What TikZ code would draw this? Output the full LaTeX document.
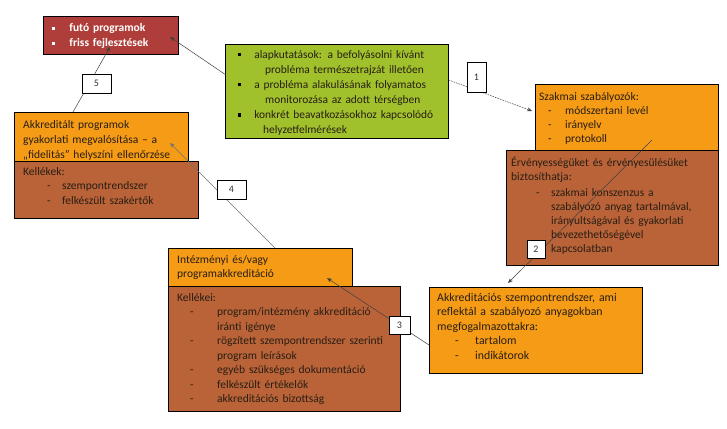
\documentclass[tikz,border=0pt]{standalone}
\usepackage{fontspec}
\setmainfont{Carlito}
\usetikzlibrary{arrows.meta,calc}
\definecolor{cOrange}{RGB}{245,155,22}
\definecolor{cBrown}{RGB}{186,99,56}
\definecolor{cRed}{RGB}{175,62,58}
\definecolor{cGreen}{RGB}{160,192,44}
\definecolor{cText}{RGB}{40,30,20}
\newcommand\sqb[1]{\raisebox{1.8pt}{\color{#1}\rule{3.2pt}{3.2pt}}}
\newcommand\dsh[3]{\hspace*{#1}\makebox[#2][l]{-}#3}
\begin{document}
\begin{tikzpicture}[x=1pt,y=-1pt,
  box/.style={draw=black, line width=0.7pt, inner sep=0pt, anchor=north west},
  txt/.style={anchor=base west, inner sep=0pt, align=left, text=cText},
  lbl/.style={draw=black, fill=white, line width=0.6pt, inner sep=0pt, text=black!80,
    font=\fontsize{10}{10}\selectfont},
  conn/.style={draw=black!75, line width=0.5pt},
  tip/.style={-{Stealth[length=5pt,width=4pt]}}]
\useasboundingbox (0,0) rectangle (727,428);
% boxes
\node[box, fill=cRed, minimum width=135pt, minimum height=38pt] (red) at (43,16) {};
\node[box, fill=cGreen, minimum width=223pt, minimum height=94pt] (green) at (225,44) {};
\node[box, fill=cOrange, minimum width=183pt, minimum height=66pt] (szak) at (535,84) {};
\node[box, fill=cBrown, minimum width=212pt, minimum height=115pt] (erv) at (506,150) {};
\node[box, fill=cOrange, minimum width=213pt, minimum height=86pt] (akk) at (429,287) {};
\node[box, fill=cOrange, minimum width=184pt, minimum height=38pt] (inst) at (168,248) {};
\node[box, fill=cBrown, minimum width=232pt, minimum height=125pt] (kell) at (168,286) {};
\node[box, fill=cOrange, minimum width=174pt, minimum height=49pt] (fid) at (14,112) {};
\node[box, fill=cBrown, minimum width=184pt, minimum height=57pt] (kel2) at (14,161) {};
% texts
\node[txt, text=white, text width=130pt, font=\fontsize{11.5}{15}\selectfont\bfseries] (tred) at (52,32)
  {\sqb{white}\hspace{14pt}futó programok\\ \sqb{white}\hspace{14pt}friss fejlesztések};
\node[txt, text width=215pt, font=\fontsize{11.4}{15.1}\selectfont] (tgreen) at (238,58)
  {\sqb{black}\hspace{13pt}alapkutatások: a befolyásolni kívánt\\
   \hspace*{27pt}probléma természetrajzát illetően\\
   \sqb{black}\hspace{13pt}a probléma alakulásának folyamatos\\
   \hspace*{27pt}monitorozása az adott térségben\\
   \sqb{black}\hspace{13pt}konkrét beavatkozásokhoz kapcsolódó\\
   \hspace*{25pt}helyzetfelmérések};
\node[txt, text width=178pt, font=\fontsize{11.5}{14}\selectfont] (tszak) at (539,100)
  {Szakmai szabályozók:\\
   \dsh{9pt}{17pt}{módszertani levél}\\
   \dsh{9pt}{17pt}{irányelv}\\
   \dsh{9pt}{17pt}{protokoll}};
\node[txt, text width=210pt, font=\fontsize{11.5}{14}\selectfont] (terv) at (511,166)
  {Érvényességüket és érvényesülésüket\\
   biztosíthatja:\\[2pt]
   \dsh{25pt}{15pt}{szakmai konszenzus a}\\
   \hspace*{40pt}szabályozó anyag tartalmával,\\
   \hspace*{40pt}irányultságával és gyakorlati\\
   \hspace*{40pt}bevezethetőségével\\
   \hspace*{40pt}kapcsolatban};
\node[txt, text width=210pt, font=\fontsize{11.8}{14.5}\selectfont] (takk) at (437,301)
  {Akkreditációs szempontrendszer, ami\\
   reflektál a szabályozó anyagokban\\
   megfogalmazottakra:\\
   \dsh{18pt}{20pt}{tartalom}\\
   \dsh{18pt}{20pt}{indikátorok}};
\node[txt, text width=180pt, font=\fontsize{11.5}{14}\selectfont] (tinst) at (177,263)
  {Intézményi és/vagy\\ programakkreditáció};
\node[txt, text width=228pt, font=\fontsize{11.5}{14.5}\selectfont] (tkell) at (177,301)
  {Kellékei:\\
   \dsh{13pt}{27pt}{program/intézmény akkreditáció}\\
   \hspace*{40pt}iránti igénye\\
   \dsh{13pt}{27pt}{rögzített szempontrendszer szerinti}\\
   \hspace*{40pt}program leírások\\
   \dsh{13pt}{27pt}{egyéb szükséges dokumentáció}\\
   \dsh{13pt}{27pt}{felkészült értékelők}\\
   \dsh{13pt}{27pt}{akkreditációs bizottság}};
\node[txt, text width=172pt, font=\fontsize{11.5}{15}\selectfont] (tfid) at (23,128)
  {Akkreditált programok\\
   gyakorlati megvalósítása – a\\
   „fidelitás” helyszíni ellenőrzése};
\node[txt, text width=180pt, font=\fontsize{11.5}{14.5}\selectfont] (tkel2) at (23,175)
  {Kellékek:\\
   \dsh{24pt}{15pt}{szempontrendszer}\\
   \dsh{24pt}{15pt}{felkészült szakértők}};
% connector endpoints
\coordinate (c0s) at ($(green.north west)+(1,31)$);
\coordinate (c0e) at ($(red.north west)+(127,21)$);
\coordinate (c1s) at ($(green.north east)+(0,36)$);
\coordinate (c1e) at ($(szak.north west)+(-3,27)$);
\coordinate (c2s) at ($(szak.north west)+(117,56)$);
\coordinate (c2e) at ($(akk.north west)+(79,-4)$);
\coordinate (c3s) at ($(akk.north west)+(0,58)$);
\coordinate (c3e) at ($(inst.north west)+(159,30)$);
\coordinate (c4s) at ($(inst.north west)+(107,0)$);
\coordinate (c4e) at ($(fid.north west)+(156,31)$);
\coordinate (c5s) at ($(fid.north west)+(59,0)$);
\coordinate (c5e) at ($(red.north west)+(67,31)$);
% connectors
\draw[conn, tip] (c0s) -- (c0e);
\draw[conn, tip, dash pattern=on 1.6pt off 1pt] (c1s) -- (c1e);
\draw[conn, tip] (c2s) -- (c2e);
\draw[conn, tip] (c3s) -- (c3e);
\draw[conn, tip, draw=black!55] (c4s) -- (c4e);
\draw[conn, tip] (c5s) -- (c5e);
% labels
\node[lbl, minimum width=19pt, minimum height=30pt] (l1) at (476.5,77) {1};
\node[lbl, minimum width=18pt, minimum height=18pt] (l2) at (536,249) {2};
\node[lbl, minimum width=21pt, minimum height=18pt] (l3) at (399.5,325) {3};
\node[lbl, minimum width=29pt, minimum height=19pt] (l4) at (231.5,189.5) {4};
\node[lbl, minimum width=29pt, minimum height=19pt] (l5) at (96.5,83.5) {5};
\end{tikzpicture}
\end{document}
